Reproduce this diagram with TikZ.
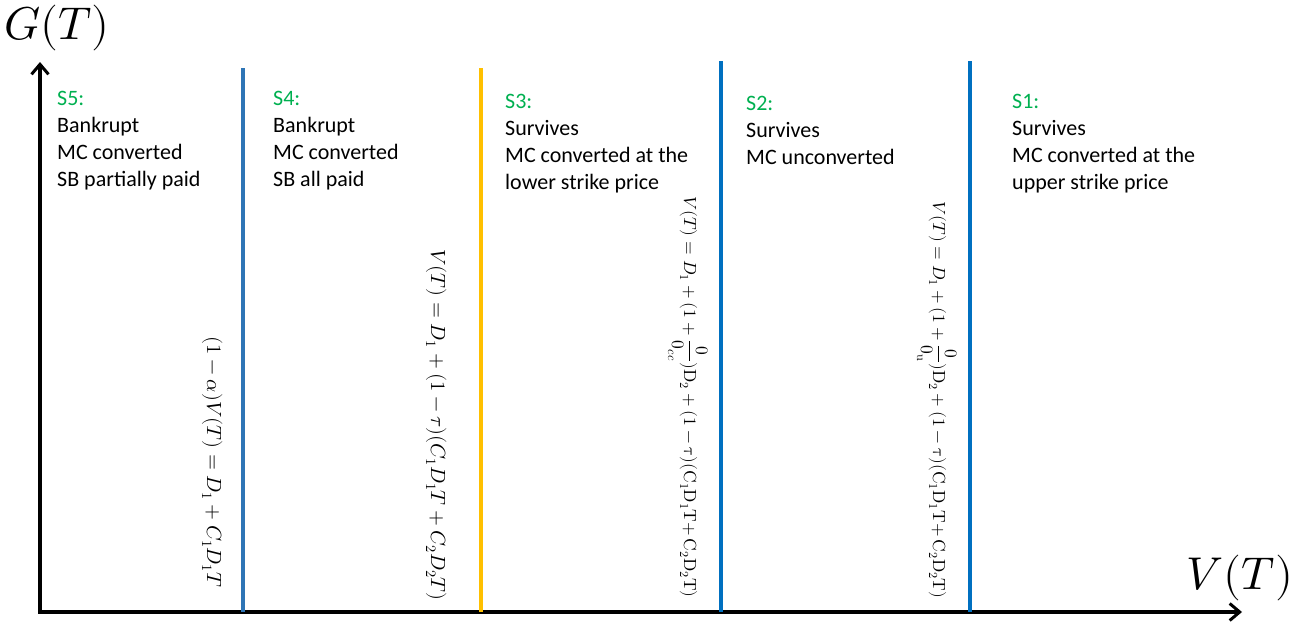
\documentclass[tikz,border=0pt]{standalone}
\usepackage{fontspec}
\usepackage{unicode-math}
\setmainfont{Carlito}
\setmathfont{Latin Modern Math}
\usetikzlibrary{arrows.meta}
\definecolor{stategreen}{HTML}{00B050}
\definecolor{steelline}{HTML}{2E75B6}
\definecolor{goldline}{HTML}{FFC000}
\definecolor{blueline}{HTML}{0070C0}
\tikzset{
  axis/.style={line width=3.5pt, -{Straight Barb[length=10pt,width=17pt,line width=3pt]}},
  divider/.style={line width=3.5pt},
  % anchored at the baseline of the last line
  statetext/.style={anchor=base west, align=left, inner sep=0pt,
    font=\fontsize{22}{27}\selectfont},
  formula/.style={rotate=-90, inner sep=0pt, font=\fontsize{20.5}{24}\selectfont},
  longformula/.style={formula, font=\fontsize{17.5}{21}\selectfont},
  axislabel/.style={inner sep=0pt, font=\fontsize{46}{50}\selectfont}
}
\begin{document}
\begin{tikzpicture}[x=1pt,y=-1pt]
\useasboundingbox (0,0) rectangle (1315,627);
% axes
\coordinate (origin) at (40,612);
\coordinate (ytip) at (40,62);
\coordinate (xtip) at (1242,612);
\draw[axis] ([yshift=-1.75pt]origin) -- (ytip);
\draw[axis] ([xshift=-1.75pt]origin) -- (xtip);
\node[axislabel] (glabel) at (57,28) {$G(T)$};
\node[axislabel] (vlabel) at (1240,578) {$V(T)$};
% region boundaries
\coordinate (b1top) at (243,68);  \coordinate (b1bot) at (243,612);
\coordinate (b2top) at (481,68);  \coordinate (b2bot) at (481,612);
\coordinate (b3top) at (721,61);  \coordinate (b3bot) at (721,612);
\coordinate (b4top) at (970,61);  \coordinate (b4bot) at (970,612);
\draw[divider, steelline] (b1top) -- (b1bot);
\draw[divider, goldline] (b2top) -- (b2bot);
\draw[divider, blueline] (b3top) -- (b3bot);
\draw[divider, blueline] (b4top) -- (b4bot);
% state descriptions
\node[statetext] (s5) at (57,186) {\textcolor{stategreen}{S5:}\\Bankrupt\\MC converted\\SB partially paid};
\node[statetext] (s4) at (273,186) {\textcolor{stategreen}{S4:}\\Bankrupt\\MC converted\\SB all paid};
\node[statetext] (s3) at (505,189) {\textcolor{stategreen}{S3:}\\Survives\\MC converted at the\\lower strike price};
\node[statetext] (s2) at (746,164) {\textcolor{stategreen}{S2:}\\Survives\\MC unconverted};
\node[statetext] (s1) at (1012,189) {\textcolor{stategreen}{S1:}\\Survives\\MC converted at the\\upper strike price};
% threshold conditions
\node[formula] (f1) at (213,462) {$(1-\alpha)V(T) = D_1 + C_1D_1T$};
\node[formula] (f2) at (437,425) {$V(T) = D_1 + (1-\tau)(C_1D_1T + C_2D_2T)$};
\node[longformula] (f3) at (688,397) {$V(T) = D_1 + (1+\dfrac{0}{0_{cc}})\symup{D}_2 + (1-\symup{\tau})(\symup{C}_1\symup{D}_1\symup{T}{+}\,\symup{C}_2\symup{D}_2\symup{T})$};
\node[longformula] (f4) at (937,400) {$V(T) = D_1 + (1+\dfrac{0}{0_{\symup{u}}})\symup{D}_2 + (1-\symup{\tau})(\symup{C}_1\symup{D}_1\symup{T}{+}\,\symup{C}_2\symup{D}_2\symup{T})$};
\end{tikzpicture}
\end{document}
